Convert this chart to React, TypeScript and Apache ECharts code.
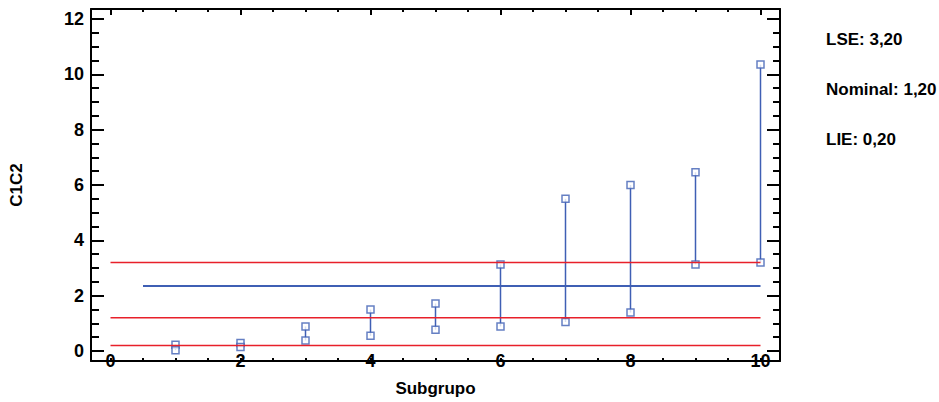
import React, { useEffect, useRef } from "react";
import * as echarts from "echarts";

const subgroups = [1, 2, 3, 4, 5, 6, 7, 8, 9, 10];
const rangeMax = [0.23, 0.29, 0.89, 1.5, 1.72, 3.13, 5.5, 6.0, 6.46, 10.35];
const rangeMin = [0.03, 0.15, 0.38, 0.55, 0.77, 0.89, 1.05, 1.39, 3.13, 3.2];
const meanValue = 2.35;
const meanStart = 0.5;
const meanEnd = 10;
const limitStart = 0;
const limitEnd = 10;
const LSE = 3.2;
const nominal = 1.2;
const LIE = 0.2;
const limitTexts = ["LSE: 3,20", "Nominal: 1,20", "LIE: 0,20"];

const xMajorTicks = [0, 2, 4, 6, 8, 10];
const xMinorTicks = [0, 0.5, 1, 1.5, 2, 2.5, 3, 3.5, 4, 4.5, 5, 5.5, 6, 6.5, 7, 7.5, 8, 8.5, 9, 9.5, 10];
const yMajorTicks = [0, 2, 4, 6, 8, 10, 12];
const yMinorTicks = [
  0, 0.5, 1, 1.5, 2, 2.5, 3, 3.5, 4, 4.5, 5, 5.5, 6, 6.5, 7, 7.5, 8, 8.5, 9, 9.5, 10, 10.5, 11, 11.5, 12,
];

const FONT = "'Liberation Sans', Arial, sans-serif";
const BLUE = "#3f5fb4";
const RED = "#e8202a";

export default function App() {
  const ref = useRef<HTMLDivElement>(null);

  useEffect(() => {
    if (!ref.current) return;
    const chart = echarts.init(ref.current, undefined, { renderer: "svg" });

    const axisLine = { show: true, onZero: false, lineStyle: { color: "#000", width: 2 } };
    const noLine = { show: false, onZero: false };
    const xBase = { type: "value", min: -0.3, max: 10.3, gridIndex: 0, splitLine: { show: false } };
    const yBase = { type: "value", min: -0.36, max: 12.36, gridIndex: 0, splitLine: { show: false } };
    const tickStyle = { color: "#000", width: 2 };

    const option: any = {
      animation: false,
      backgroundColor: "#fff",
      grid: { left: 91, top: 9, width: 689, height: 353 },
      xAxis: [
        {
          ...xBase,
          position: "bottom",
          axisLine,
          axisTick: { show: true, inside: true, length: 3, lineStyle: tickStyle, customValues: xMinorTicks },
          axisLabel: {
            show: true,
            customValues: xMajorTicks,
            margin: 0,
            verticalAlign: "middle",
            fontSize: 18,
            fontWeight: "bold",
            fontFamily: FONT,
            color: "#000",
          },
          name: "Subgrupo",
          nameLocation: "middle",
          nameGap: 19,
          nameTextStyle: { fontSize: 17, fontWeight: "bold", fontFamily: FONT, color: "#000", verticalAlign: "top" },
        },
        {
          ...xBase,
          position: "top",
          axisLine,
          axisTick: { show: true, inside: true, length: 6, lineStyle: tickStyle, customValues: xMajorTicks },
          axisLabel: { show: false },
        },
        {
          ...xBase,
          position: "top",
          axisLine: noLine,
          axisTick: { show: true, inside: true, length: 3, lineStyle: tickStyle, customValues: xMinorTicks },
          axisLabel: { show: false },
        },
      ],
      yAxis: [
        {
          ...yBase,
          position: "left",
          axisLine,
          axisTick: { show: true, inside: true, length: 13, lineStyle: tickStyle, customValues: yMajorTicks },
          axisLabel: {
            show: true,
            customValues: yMajorTicks,
            margin: 7,
            fontSize: 18,
            fontWeight: "bold",
            fontFamily: FONT,
            color: "#000",
          },
          name: "C1C2",
          nameLocation: "middle",
          nameGap: 66,
          nameTextStyle: { fontSize: 17, fontWeight: "bold", fontFamily: FONT, color: "#000" },
        },
        {
          ...yBase,
          position: "left",
          axisLine: noLine,
          axisTick: { show: true, inside: true, length: 8, lineStyle: tickStyle, customValues: yMinorTicks },
          axisLabel: { show: false },
        },
        {
          ...yBase,
          position: "right",
          axisLine,
          axisTick: { show: true, inside: true, length: 13, lineStyle: tickStyle, customValues: yMajorTicks },
          axisLabel: { show: false },
        },
        {
          ...yBase,
          position: "right",
          axisLine: noLine,
          axisTick: { show: true, inside: true, length: 7, lineStyle: tickStyle, customValues: yMinorTicks },
          axisLabel: { show: false },
        },
      ],
      series: [
        {
          name: "LSE",
          type: "line",
          silent: true,
          symbol: "none",
          lineStyle: { color: RED, width: 1.5 },
          data: [
            [limitStart, LSE],
            [limitEnd, LSE],
          ],
        },
        {
          name: "Nominal",
          type: "line",
          silent: true,
          symbol: "none",
          lineStyle: { color: RED, width: 1.5 },
          data: [
            [limitStart, nominal],
            [limitEnd, nominal],
          ],
        },
        {
          name: "LIE",
          type: "line",
          silent: true,
          symbol: "none",
          lineStyle: { color: RED, width: 1.5 },
          data: [
            [limitStart, LIE],
            [limitEnd, LIE],
          ],
        },
        {
          name: "Media",
          type: "line",
          silent: true,
          symbol: "none",
          lineStyle: { color: BLUE, width: 2 },
          data: [
            [meanStart, meanValue],
            [meanEnd, meanValue],
          ],
        },
        {
          name: "Rango",
          type: "custom",
          silent: true,
          encode: { x: 0, y: [1, 2] },
          data: subgroups.map((s, i) => [s, rangeMin[i], rangeMax[i]]),
          renderItem: (_params: any, api: any) => {
            const x = api.value(0);
            const p1 = api.coord([x, api.value(1)]);
            const p2 = api.coord([x, api.value(2)]);
            return {
              type: "line",
              shape: { x1: p1[0], y1: p1[1], x2: p2[0], y2: p2[1] },
              style: { stroke: BLUE, lineWidth: 1.5 },
            };
          },
        },
        {
          name: "Max",
          type: "scatter",
          silent: true,
          symbol: "rect",
          symbolSize: 7,
          itemStyle: { color: "#fff", borderColor: BLUE, borderWidth: 1.5 },
          data: subgroups.map((s, i) => [s, rangeMax[i]]),
        },
        {
          name: "Min",
          type: "scatter",
          silent: true,
          symbol: "rect",
          symbolSize: 7,
          itemStyle: { color: "#fff", borderColor: BLUE, borderWidth: 1.5 },
          data: subgroups.map((s, i) => [s, rangeMin[i]]),
        },
      ],
      graphic: limitTexts.map((t, i) => ({
        type: "text",
        left: 826,
        top: 31 + i * 50,
        style: { text: t, fontSize: 17, fontWeight: "bold", fontFamily: FONT, fill: "#000" },
      })),
    };

    chart.setOption(option);
    return () => chart.dispose();
  }, []);

  return <div ref={ref} style={{ position: "absolute", left: 0, top: 0, width: 939, height: 402 }} />;
}
